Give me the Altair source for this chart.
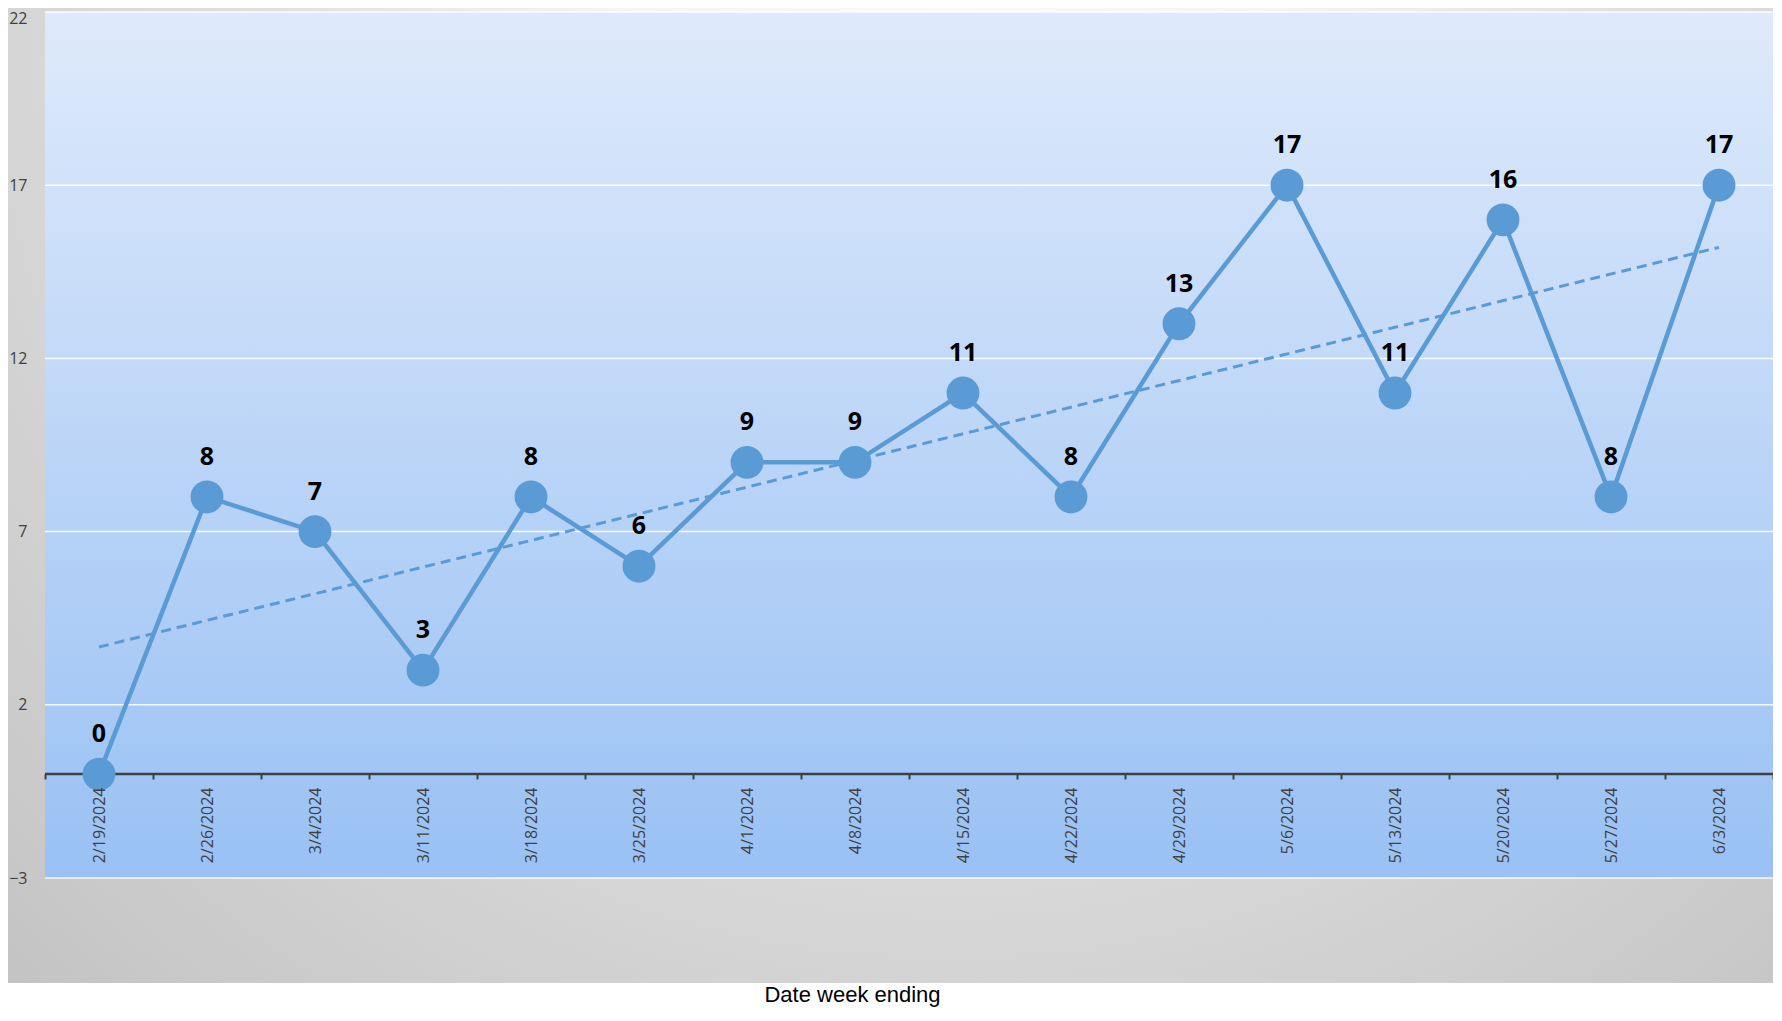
import altair as alt
import pandas as pd

# ---- data ----
dates = ["2/19/2024", "2/26/2024", "3/4/2024", "3/11/2024", "3/18/2024", "3/25/2024",
         "4/1/2024", "4/8/2024", "4/15/2024", "4/22/2024", "4/29/2024", "5/6/2024",
         "5/13/2024", "5/20/2024", "5/27/2024", "6/3/2024"]
counts = [0, 8, 7, 3, 8, 6, 9, 9, 11, 8, 13, 17, 11, 16, 8, 17]
y_ticks = [-3, 2, 7, 12, 17, 22]
x_title = "Date week ending"

W, H = 1728, 866

df = pd.DataFrame({"date": dates, "count": counts, "idx": list(range(len(dates)))})
grid_df = pd.DataFrame({"tick": y_ticks})
one = pd.DataFrame({"k": [0]})

BLUE = "#5b9bd5"

yscale = alt.Scale(domain=[-3, 22], nice=False, zero=False)
yaxis = alt.Axis(values=y_ticks, domain=False, ticks=False, grid=False,
                 labelFont="Open Sans", labelFontSize=16, labelColor="#404040",
                 labelPadding=18, title=None, zindex=1,
                 labelOffset={"condition": {"test": "datum.value == 22", "value": 6}, "value": 0})

xscale = alt.Scale(type="band", paddingInner=0, paddingOuter=0)
xaxis = alt.Axis(labelAngle=270, labelFont="Open Sans", labelFontSize=16,
                 labelColor="#404040", labelPadding=8, labelOverlap=False,
                 tickBand="extent", tickSize=5, tickWidth=2, tickColor="#404040",
                 domain=False, grid=False, offset=-104, zindex=1,
                 title=x_title, titleFont="Liberation Sans", titleFontSize=22,
                 titleFontWeight="normal", titleColor="black",
                 titleX=807, titleY=210, titleAlign="center", titleBaseline="top",
                 titleAnchor="start")

X = alt.X("date:N", sort=dates, scale=xscale, axis=xaxis)
Y = alt.Y("count:Q", scale=yscale, axis=yaxis)

gray_fill = alt.RadialGradient(
    gradient="radial", x1=0.533, y1=0.44, r1=0, x2=0.533, y2=0.44, r2=0.79,
    stops=[alt.GradientStop(offset=0, color="#fafafa"),
           alt.GradientStop(offset=0.25, color="#f4f4f4"),
           alt.GradientStop(offset=0.46, color="#e2e2e2"),
           alt.GradientStop(offset=0.68, color="#d5d5d5"),
           alt.GradientStop(offset=1, color="#c2c2c2")])

blue_fill = alt.LinearGradient(
    gradient="linear", x1=0, y1=0, x2=0, y2=1,
    stops=[alt.GradientStop(offset=0, color="#dfeafb"),
           alt.GradientStop(offset=1, color="#99c1f4")])

outer_bg = alt.Chart(one).mark_rect(fill=gray_fill).encode(
    x=alt.value(-37), x2=alt.value(1728), y=alt.value(-789), y2=alt.value(971))

plot_bg = alt.Chart(one).mark_rect(fill=blue_fill).encode(
    x=alt.value(0), x2=alt.value(W), y=alt.value(0), y2=alt.value(H))

grid = alt.Chart(grid_df).mark_rule(color="white", strokeWidth=1.5, opacity=0.9).encode(
    y=alt.Y("tick:Q", scale=yscale, axis=yaxis))

zero = alt.Chart(one).mark_rule(color="#404040", strokeWidth=2.5).encode(
    y=alt.Y(datum=0, type="quantitative", scale=yscale, axis=yaxis))

trend = alt.Chart(df).transform_regression("idx", "count").mark_line(
    color=BLUE, strokeWidth=3, strokeDash=[10, 6]).encode(
    x=alt.X("idx:Q", scale=alt.Scale(domain=[-0.5, 15.5], nice=False, zero=False), axis=None),
    y=Y)

line = alt.Chart(df).mark_line(color=BLUE, strokeWidth=4.5).encode(x=X, y=Y)
pts = alt.Chart(df).mark_circle(size=1080, color=BLUE, opacity=1).encode(x=X, y=Y)
lbl = alt.Chart(df).mark_text(font="Open Sans", fontSize=25, fontWeight="bold",
                              color="black", dy=-32, baseline="alphabetic").encode(
    x=X, y=Y, text="count:Q")

main = alt.layer(line, pts, lbl)

chart = alt.layer(outer_bg, plot_bg, grid, zero, trend, main).resolve_scale(
    x="independent"
).properties(
    width=W, height=H,
    padding={"left": 37, "top": 4, "right": 0, "bottom": 129},
    autosize=alt.AutoSizeParams(type="none"),
    background="white",
).configure_view(strokeWidth=0)

chart.save("out.html", embed_options={"renderer": "svg", "actions": False})
